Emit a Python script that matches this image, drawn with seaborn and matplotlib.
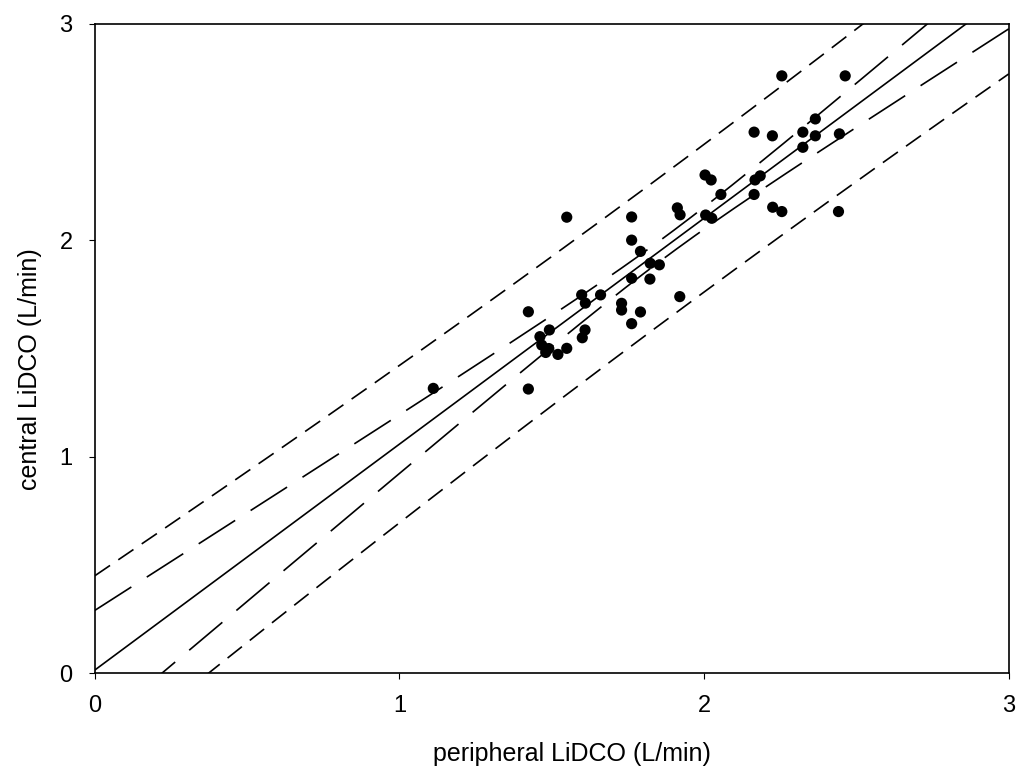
import numpy as np
import pandas as pd
import seaborn as sns
import matplotlib
matplotlib.use('Agg')
import matplotlib.pyplot as plt

sns.set_style('ticks')
plt.rcParams['font.family'] = ['Liberation Sans', 'DejaVu Sans']

# peripheral vs central LiDCO cardiac output (L/min)
peripheral = [1.111, 1.423, 1.423, 1.461, 1.467, 1.480, 1.490, 1.492, 1.520, 1.549,
              1.549, 1.598, 1.610, 1.600, 1.609, 1.660, 1.729, 1.729, 1.762, 1.791,
              1.762, 1.822, 1.762, 1.762, 1.791, 1.823, 1.853, 1.920, 1.912, 1.921,
              2.003, 2.023, 2.005, 2.025, 2.055, 2.164, 2.167, 2.184, 2.225, 2.255,
              2.441, 2.164, 2.224, 2.255, 2.463, 2.324, 2.365, 2.365, 2.324, 2.444]
central = [1.316, 1.670, 1.313, 1.555, 1.516, 1.482, 1.500, 1.586, 1.473, 1.501,
           2.107, 1.748, 1.710, 1.550, 1.586, 1.748, 1.709, 1.678, 1.615, 1.669,
           1.825, 1.821, 2.108, 2.001, 1.949, 1.894, 1.887, 1.740, 2.150, 2.118,
           2.302, 2.279, 2.117, 2.102, 2.212, 2.212, 2.279, 2.298, 2.153, 2.133,
           2.133, 2.500, 2.483, 2.760, 2.760, 2.500, 2.561, 2.483, 2.430, 2.492]
ticks = [0, 1, 2, 3]
t_crit = 2.01  # t(0.975, n-2)

df = pd.DataFrame({'peripheral': peripheral, 'central': central})

# least squares fit, 95% CI of the line and 95% prediction band
n = len(df)
b, a = np.polyfit(df.peripheral, df.central, 1)
resid = df.central - (a + b * df.peripheral)
s = np.sqrt((resid ** 2).sum() / (n - 2))
xm = df.peripheral.mean()
sxx = ((df.peripheral - xm) ** 2).sum()
xs = np.linspace(0, 3, 301)
fit = a + b * xs
ci = t_crit * s * np.sqrt(1 / n + (xs - xm) ** 2 / sxx)
pi = t_crit * s * np.sqrt(1 + 1 / n + (xs - xm) ** 2 / sxx)

fig = plt.figure(figsize=(10.2, 7.72), dpi=100)
ax = fig.add_axes([0.093, 0.128, 0.896, 0.841])

lw = 1.2
sns.lineplot(x=xs, y=fit, color='black', lw=lw, ax=ax)
for band, dash in [(ci, (26, 11)), (pi, (11, 6))]:
    sns.lineplot(x=xs, y=fit + band, color='black', lw=lw, linestyle=(0, dash), ax=ax)
    sns.lineplot(x=xs, y=fit - band, color='black', lw=lw, linestyle=(0, dash), ax=ax)

sns.scatterplot(data=df, x='peripheral', y='central', color='black', s=65,
                edgecolor='none', ax=ax, zorder=5)

ax.set_xlim(0, 3)
ax.set_ylim(0, 3)
ax.set_xticks(ticks)
ax.set_yticks(ticks)
ax.tick_params(axis='both', direction='out', length=4, width=0.8,
               labelsize=17, pad=12, colors='black')
for sp in ax.spines.values():
    sp.set_visible(True)
    sp.set_color('black')
    sp.set_linewidth(1.2)

ax.set_xlabel('peripheral LiDCO (L/min)', fontsize=18, color='black')
ax.set_ylabel('central LiDCO (L/min)', fontsize=18, color='black')
ax.xaxis.set_label_coords(0.522, -0.106)
ax.yaxis.set_label_coords(-0.058, 0.468)

fig.savefig('out.png', dpi=100)
